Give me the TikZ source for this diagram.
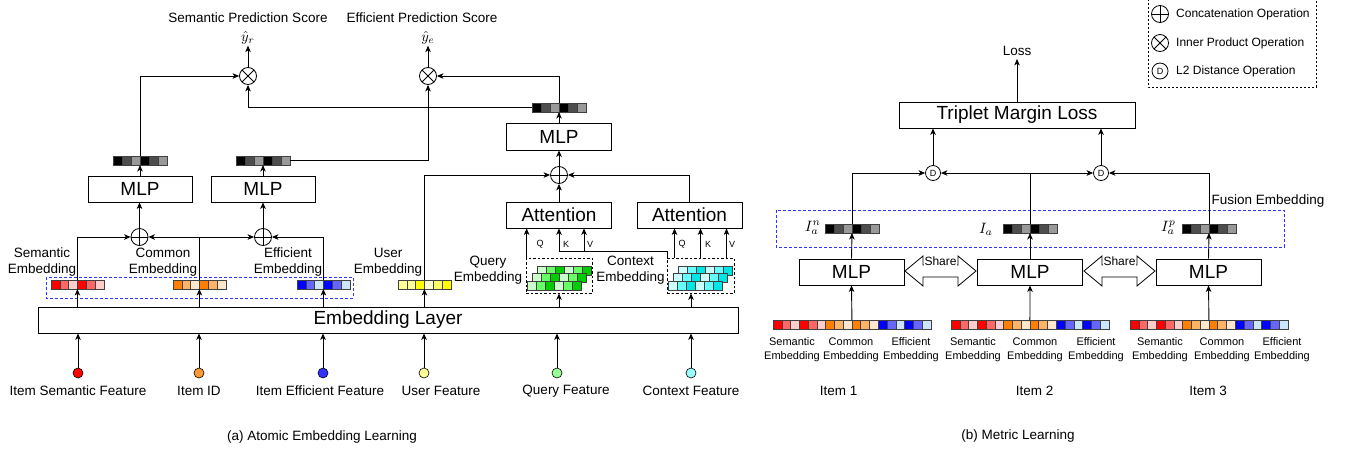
\documentclass[tikz,border=0pt]{standalone}
\usepackage{fontspec}
\setmainfont{Liberation Sans}
\usetikzlibrary{arrows.meta,calc}
\definecolor{r1}{HTML}{FF0000}\definecolor{r2}{HTML}{FF6666}\definecolor{r3}{HTML}{FFCCCC}
\definecolor{o1}{HTML}{FF8000}\definecolor{o2}{HTML}{FFB366}\definecolor{o3}{HTML}{FFE6CC}
\definecolor{b1}{HTML}{0000FF}\definecolor{b2}{HTML}{6666FF}\definecolor{b3}{HTML}{CCE5FF}
\definecolor{k1}{HTML}{000000}\definecolor{k2}{HTML}{4D4D4D}\definecolor{k3}{HTML}{999999}
\definecolor{y1}{HTML}{FFFF99}\definecolor{y3}{HTML}{FFFF00}\definecolor{y4}{HTML}{FFFFCC}\definecolor{y5}{HTML}{FFFF66}
\definecolor{g1}{HTML}{CCFFCC}\definecolor{g2}{HTML}{66FF66}\definecolor{g3}{HTML}{00CC00}
\definecolor{cy1}{HTML}{CCFFFF}\definecolor{cy2}{HTML}{66FFFF}\definecolor{cy3}{HTML}{00E6E6}
\definecolor{fr}{HTML}{FF0000}\definecolor{fo}{HTML}{FF9933}\definecolor{fb}{HTML}{3333FF}
\definecolor{fy}{HTML}{FFFF99}\definecolor{fg}{HTML}{99FF99}\definecolor{fc}{HTML}{99FFFF}
\definecolor{dashblue}{HTML}{3333FF}
% name, left x, top y, cell width, number of cells, colours
\newcommand\mystrip[6]{%
  \node[inner sep=0, outer sep=0, minimum width={#4*#5}, minimum height=9, anchor=north west] (#1) at (#2,#3) {};
  \foreach \mycol [count=\myidx from 0] in {#6}{\filldraw[stripcell, fill=\mycol] ({#2+\myidx*#4},#3) rectangle ++(#4,9);}%
}
\tikzset{
  ln/.style={line width=0.9pt, black},
  arr/.style={ln, -{Stealth[length=6.5pt,width=5.5pt,inset=1.8pt]}},
  stripcell/.style={draw=black!75, line width=0.5pt},
  box/.style={draw, line width=0.8pt, inner sep=0, font=\fontsize{19}{22}\selectfont},
  lbl/.style={font=\fontsize{13.5}{16}\selectfont, align=center, inner sep=1pt},
  slbl/.style={font=\fontsize{11}{14}\selectfont, align=center, inner sep=1pt},
  qkv/.style={font=\fontsize{9}{10}\selectfont, inner sep=0.5pt},
  mth/.style={font=\fontsize{10}{12}\selectfont, inner sep=1pt},
  feat/.style={circle, draw, line width=0.6pt, minimum size=10, inner sep=0},
  opplus/.style={circle, draw, line width=0.8pt, minimum size=17, inner sep=0, fill=white,
    path picture={\draw[line width=0.8pt] (path picture bounding box.north) -- (path picture bounding box.south)
      (path picture bounding box.west) -- (path picture bounding box.east);}},
  optimes/.style={circle, draw, line width=0.8pt, minimum size=17, inner sep=0, fill=white,
    path picture={\draw[line width=0.8pt] (path picture bounding box.north west) -- (path picture bounding box.south east)
      (path picture bounding box.south west) -- (path picture bounding box.north east);}},
  opd/.style={circle, draw, line width=0.8pt, minimum size=15, inner sep=0, fill=white, font=\fontsize{9}{9}\selectfont},
  dbox/.style={draw, dashed, dash pattern=on 2.5pt off 2pt, line width=0.7pt, inner sep=0},
  sharearrow/.pic={
    \draw[line width=0.8pt, fill=white] (-35.5,0) -- (-17.5,-15) -- (-17.5,-6) -- (17.5,-6) -- (17.5,-15) -- (35.5,0)
      -- (17.5,15) -- (17.5,6) -- (-17.5,6) -- (-17.5,15) -- cycle;
    \node[fill=white, inner sep=0.5pt, font=\fontsize{12}{12}\selectfont] at (0,-10) {Share};
  }
}
\begin{document}
\begin{tikzpicture}[x=1pt,y=-1pt]
\useasboundingbox (0,0) rectangle (1346,453);
% ================= (a) =================
\node[box, minimum width=700, minimum height=26] (emb) at (388,320) {Embedding Layer};
\foreach \nm/\xx/\col in {f1/78/fr,f2/199/fo,f3/323/fb,f4/424/fy,f5/557/fg,f6/691/fc}{
  \node[feat, fill=\col] (\nm) at (\xx,373) {};
  \draw[arr] (\nm) -- (\nm |- emb.south);
}
\node[lbl] (lf1) at (78,391) {Item Semantic Feature};
\node[lbl] (lf2) at (199,391) {Item ID};
\node[lbl] (lf3) at (320,391) {Item Efficient Feature};
\node[lbl] (lf4) at (441,391) {User Feature};
\node[lbl] (lf5) at (566,391) {Query Feature};
\node[lbl] (lf6) at (691,391) {Context Feature};

\draw[dashed, dash pattern=on 3pt off 2pt, dashblue, line width=0.8pt] (46,277) rectangle (353,298);
\mystrip{semE}{51}{280}{8.8}{6}{r1,r2,r3,r1,r2,r3}
\mystrip{comE}{173}{280}{8.8}{6}{o1,o2,o3,o1,o2,o3}
\mystrip{effE}{297}{280}{8.8}{6}{b1,b2,b3,b1,b2,b3}
\mystrip{userE}{398}{280}{8.8}{6}{y1,y1,y3,y4,y5,y3}
\foreach \s in {semE,comE,effE,userE}{\draw[arr] (\s.south |- emb.north) -- (\s.south);}

\node[lbl] (lsem) at (42,262) {Semantic\\Embedding};
\node[lbl] (lcom) at (163,262) {Common\\Embedding};
\node[lbl] (leff) at (288,262) {Efficient\\Embedding};
\node[lbl] (luse) at (388,262) {User\\Embedding};
\node[lbl] (lque) at (488,270.5) {Query\\Embedding};
\node[lbl] (lcon) at (630.5,270.5) {Context\\Embedding};

\node[opplus] (c1) at (139.5,237) {};
\node[opplus] (c2) at (263,237) {};
\draw[arr] (semE.north) |- (c1.west);
\draw[ln] (comE.north) -- (comE.north |- c1);
\draw[arr] (comE.north |- c1) -- (c1.east);
\draw[arr] (comE.north |- c1) -- (c2.west);
\draw[arr] (effE.north) |- (c2.east);

\node[box, minimum width=104, minimum height=26] (m1) at (140,189) {MLP};
\node[box, minimum width=104, minimum height=26] (m2) at (263,189) {MLP};
\draw[arr] (c1) -- (c1 |- m1.south);
\draw[arr] (c2) -- (c2 |- m2.south);

\mystrip{d1}{113}{156}{9}{6}{k1,k2,k3,k1,k2,k3}
\mystrip{d2}{236}{156}{9}{6}{k1,k2,k3,k1,k2,k3}
\mystrip{d3}{532}{103}{9}{6}{k1,k2,k3,k1,k2,k3}
\draw[arr] (m1.north) -- (d1.south);
\draw[arr] (m2.north) -- (d2.south);

\node[optimes] (p1) at (248,76) {};
\node[optimes] (p2) at (428,76) {};
\draw[arr] (d1.north) |- (p1.west);
\draw[arr] (d2.east) -| (p2.south);
\draw[arr] (d3.west) -| (p1.south);
\draw[arr] (d3.north) |- (p2.east);

\node[lbl] (t1) at (248,18) {Semantic Prediction Score};
\node[lbl] (t2) at (422,18) {Efficient Prediction Score};
\node[mth] (yr) at (248,38) {\scalebox{1.45}{$\hat{y}_r$}};
\node[mth] (ye) at (428,38) {\scalebox{1.45}{$\hat{y}_e$}};
\draw[arr] (p1.north) -- (yr.south);
\draw[arr] (p2.north) -- (ye.south);

\node[box, minimum width=105, minimum height=27] (m3) at (559,136.5) {MLP};
\node[opplus] (c3) at (559,175) {};
\node[box, minimum width=105, minimum height=26] (a1) at (559,215) {Attention};
\node[box, minimum width=105, minimum height=26] (a2) at (689.5,215) {Attention};
\draw[arr] (m3.north) -- (d3.south);
\draw[arr] (c3.north) -- (m3.south);
\draw[arr] (userE.north) |- (c3.west);
\draw[arr] (a1.north) -- (c3.south);
\draw[arr] (a2.north) |- (c3.east);

\node[dbox, minimum width=66, minimum height=35] (qb) at (559,275.5) {};
\node[dbox, minimum width=67, minimum height=35] (cb) at (700.5,275.5) {};
\mystrip{qr1}{537}{266}{9}{6}{g1,g2,g3,g1,g2,g3}
\mystrip{qr2}{532}{273.5}{9}{6}{g1,g2,g3,g1,g2,g3}
\mystrip{qr3}{527}{281}{9}{6}{g1,g2,g3,g1,g2,g3}
\mystrip{cr1}{678}{266}{9}{6}{cy1,cy2,cy3,cy1,cy2,cy3}
\mystrip{cr2}{673}{273.5}{9}{6}{cy1,cy2,cy3,cy1,cy2,cy3}
\mystrip{cr3}{668}{281}{9}{6}{cy1,cy2,cy3,cy1,cy2,cy3}
\draw[arr] (qb.south |- emb.north) -- (qb.south);
\draw[arr] (f6 |- emb.north) -- (f6 |- cb.south);

\draw[arr] ([xshift=1pt]qb.north west) -- ([xshift=1pt]qb.north west |- a1.south);
\draw[arr] ([xshift=1pt]cb.north west) -- ++(0,-6) -| (a1.south);
\coordinate (vt) at (584,252);
\draw[arr] (vt) -- (vt |- a1.south);
\foreach \dx in {-26,0,26}{\draw[arr] ([xshift=\dx pt]cb.north) -- ([xshift=\dx pt]cb.north |- a2.south);}
\node[qkv] (q1) at (540,244) {Q};
\node[qkv] (k1) at (566,244) {K};
\node[qkv] (v1) at (590,244) {V};
\node[qkv] (q2) at (682,244) {Q};
\node[qkv] (k2) at (708,244) {K};
\node[qkv] (v2) at (732,244) {V};

\node[lbl] (capa) at (322,437) {(a) Atomic Embedding Learning};

% ================= (b) =================
\draw[dashed, dash pattern=on 2pt off 2pt, line width=0.7pt] (1148,-5) rectangle (1316,87);
\node[opplus] (lo1) at (1160,14) {};
\node[optimes] (lo2) at (1160,43) {};
\node[opd, minimum size=16] (lo3) at (1160,71) {D};
\node[font=\fontsize{12}{14}\selectfont, anchor=west, inner sep=0] (lt1) at (1176,14) {Concatenation Operation};
\node[font=\fontsize{12}{14}\selectfont, anchor=west, inner sep=0] (lt2) at (1176,43) {Inner Product Operation};
\node[font=\fontsize{12}{14}\selectfont, anchor=west, inner sep=0] (lt3) at (1176,71) {L2 Distance Operation};

\node[box, minimum width=236, minimum height=26] (tl) at (1017,115) {Triplet Margin Loss};
\node[lbl, inner sep=3pt] (loss) at (1017,51) {Loss};
\draw[arr] (tl.north) -- (loss.south);

\node[opd] (D1) at (933,173) {D};
\node[opd] (D2) at (1101,173) {D};
\draw[arr] (D1.north) -- (D1.north |- tl.south);
\draw[arr] (D2.north) -- (D2.north |- tl.south);

\draw[dashed, dash pattern=on 3pt off 2pt, dashblue, line width=0.8pt] (776,210) rectangle (1284,247);
\node[lbl] (lfus) at (1268,201) {Fusion Embedding};
\mystrip{fn}{825}{224}{9}{6}{k1,k2,k3,k1,k2,k3}
\mystrip{fa}{1003}{224}{9}{6}{k1,k2,k3,k1,k2,k3}
\mystrip{fp}{1182}{224}{9}{6}{k1,k2,k3,k1,k2,k3}
\node[mth, inner sep=0, anchor=east] (ian) at (821,228) {\scalebox{1.5}{$I_a^n$}};
\node[mth, inner sep=0] (ia) at (986,229) {\scalebox{1.5}{$I_a$}};
\node[mth, inner sep=0, anchor=east] (iap) at (1176,228) {\scalebox{1.5}{$I_a^p$}};

\draw[arr] (fn.north) |- (D1.west);
\draw[ln] (fa.north) -- (fa.north |- D1);
\draw[arr] (fa.north |- D1) -- (D1.east);
\draw[arr] (fa.north |- D1) -- (D2.west);
\draw[arr] (fp.north) |- (D2.east);

\node[box, minimum width=105, minimum height=26] (mb1) at (851.5,272) {MLP};
\node[box, minimum width=105, minimum height=26] (mb2) at (1030,272) {MLP};
\node[box, minimum width=105, minimum height=26] (mb3) at (1208.5,272) {MLP};
\pic at (940.5,271) {sharearrow};
\pic at (1119.5,271) {sharearrow};

\mystrip{it1}{773}{320}{8.77}{18}{r1,r2,r3,r1,r2,r3,o1,o2,o3,o1,o2,o3,b1,b2,b3,b1,b2,b3}
\mystrip{it2}{951}{320}{8.77}{18}{r1,r2,r3,r1,r2,r3,o1,o2,o3,o1,o2,o3,b1,b2,b3,b1,b2,b3}
\mystrip{it3}{1130}{320}{8.77}{18}{r1,r2,r3,r1,r2,r3,o1,o2,o3,o1,o2,o3,b1,b2,b3,b1,b2,b3}
\foreach \i in {1,2,3}{
  \draw[arr] (it\i.north) -- (mb\i.south);
}
\draw[arr] (mb1.north) -- (fn.south);
\draw[arr] (mb2.north) -- (fa.south);
\draw[arr] (mb3.north) -- (fp.south);

\node[slbl] (s1) at (792,350) {Semantic\\Embedding};
\node[slbl] (s2) at (851,350) {Common\\Embedding};
\node[slbl] (s3) at (911,350) {Efficient\\Embedding};
\node[slbl] (s4) at (973,350) {Semantic\\Embedding};
\node[slbl] (s5) at (1035,350) {Common\\Embedding};
\node[slbl] (s6) at (1096,350) {Efficient\\Embedding};
\node[slbl] (s7) at (1160,350) {Semantic\\Embedding};
\node[slbl] (s8) at (1222,350) {Common\\Embedding};
\node[slbl] (s9) at (1282,350) {Efficient\\Embedding};

\node[lbl] (item1) at (838.5,391) {Item 1};
\node[lbl] (item2) at (1034.5,391) {Item 2};
\node[lbl] (item3) at (1208,391) {Item 3};
\node[lbl] (capb) at (1018,436) {(b) Metric Learning};
\end{tikzpicture}
\end{document}
